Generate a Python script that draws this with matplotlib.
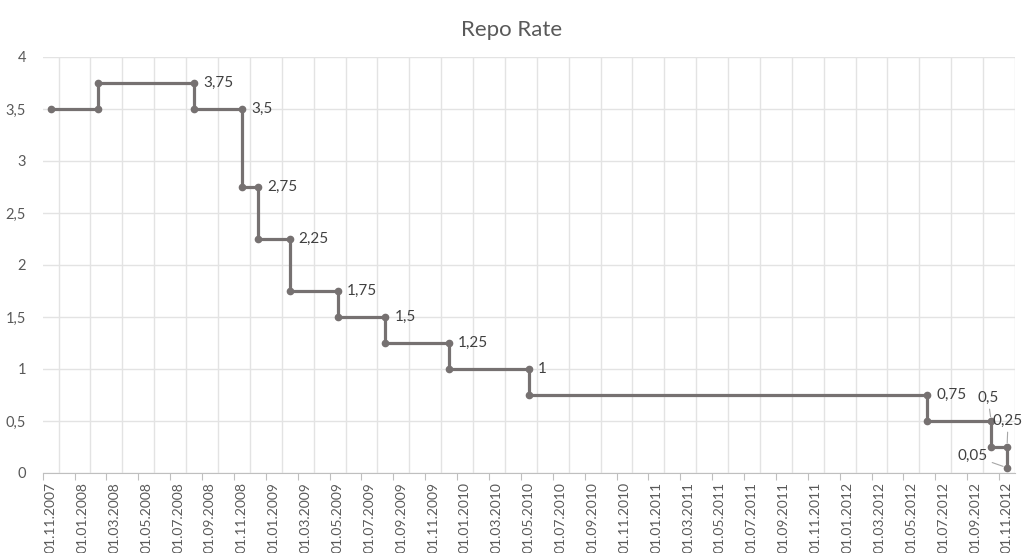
import numpy as np
import pandas as pd
import matplotlib
matplotlib.use("Agg")
import matplotlib.pyplot as plt

plt.rcParams["font.family"] = ["Lato", "DejaVu Sans"]

# Repo rate changes: date of each step and the rate before / after it
start_date = "2007-11-01"
end_date = "2012-11-01"
change_dates = ["2008-02-01", "2008-08-01", "2008-11-01", "2008-12-01", "2009-02-01",
                "2009-05-01", "2009-08-01", "2009-12-01", "2010-05-01", "2012-06-01",
                "2012-10-01", "2012-11-01"]
rates = [3.5, 3.75, 3.5, 2.75, 2.25, 1.75, 1.5, 1.25, 1.0, 0.75, 0.5, 0.25, 0.05]

line_color = "#767171"
grid_color = "#e3e3e3"
text_color = "#595959"
label_color = "#404040"


def month_index(d):
    d = pd.Timestamp(d)
    s = pd.Timestamp(start_date)
    return (d.year - s.year) * 12 + (d.month - s.month)


def fmt(v):
    return f"{v:g}".replace(".", ",")


# build the step series: every change is drawn as two points on the same date
xs = [month_index(start_date) + 0.5]
ys = [rates[0]]
for i, d in enumerate(change_dates):
    m = month_index(d) + 0.5
    xs += [m, m]
    ys += [rates[i], rates[i + 1]]

n_months = month_index(end_date) + 1

fig = plt.figure(figsize=(10.23, 5.53), dpi=100)
ax = fig.add_axes([0.0417, 0.1447, 0.9505, 0.7523])

ax.plot(xs, ys, color=line_color, lw=2.3, marker="o", ms=4.5, zorder=3,
        solid_capstyle="butt")

# labels sit on the last point of each level (first level has none)
for i in range(1, 10):
    m = month_index(change_dates[i]) + 0.5
    ax.annotate(fmt(rates[i]), (m, rates[i]), xytext=(9, 0), textcoords="offset pixels",
                va="center", ha="left", fontsize=11, color=label_color)

leader = dict(arrowstyle="-", color="#a6a6a6", lw=0.8, shrinkA=1, shrinkB=3)
m = month_index(change_dates[-2]) + 0.5
ax.annotate(fmt(rates[10]), (m, rates[10]), xytext=(-3, 23), textcoords="offset pixels",
            va="center", ha="center", fontsize=11, color=label_color, arrowprops=leader)
m = month_index(change_dates[-1]) + 0.5
ax.annotate(fmt(rates[11]), (m, rates[11]), xytext=(1, 26), textcoords="offset pixels",
            va="center", ha="center", fontsize=11, color=label_color, arrowprops=leader)
ax.annotate(fmt(rates[12]), (m, rates[12]), xytext=(-34, 12), textcoords="offset pixels",
            va="center", ha="center", fontsize=11, color=label_color, arrowprops=leader)

ax.set_xlim(0, n_months)
ax.set_ylim(0, 4)

# month gridlines, ticks every two months, labels centred in the month slot
ax.set_xticks(np.arange(0, n_months + 1, 1), minor=True)
ax.set_xticks(np.arange(0, n_months, 2))
ax.set_xticklabels([])
months = pd.date_range(start_date, end_date, freq="2MS")
for k, d in enumerate(months):
    ax.text(2 * k + 0.5, -0.085, d.strftime("%d.%m.%Y"), rotation=90, ha="center",
            va="top", fontsize=10, color=text_color)

yticks = np.arange(0, 4.01, 0.5)
ax.set_yticks(yticks)
ax.set_yticklabels([fmt(v) for v in yticks])
ax.tick_params(axis="y", length=0, pad=12, labelsize=10.5, labelcolor=text_color)
ax.tick_params(axis="x", which="major", length=5, color="#bfbfbf", direction="out")
ax.tick_params(axis="x", which="minor", length=0)

ax.grid(True, which="minor", axis="x", color=grid_color, lw=1)
ax.grid(True, which="major", axis="y", color=grid_color, lw=1)
ax.set_axisbelow(True)

for side in ["top", "right", "left"]:
    ax.spines[side].set_visible(False)
ax.spines["bottom"].set_color("#bfbfbf")

fig.text(0.5, 0.945, "Repo Rate", ha="center", va="center", fontsize=16, color=text_color)

fig.savefig("out.png", dpi=100)
